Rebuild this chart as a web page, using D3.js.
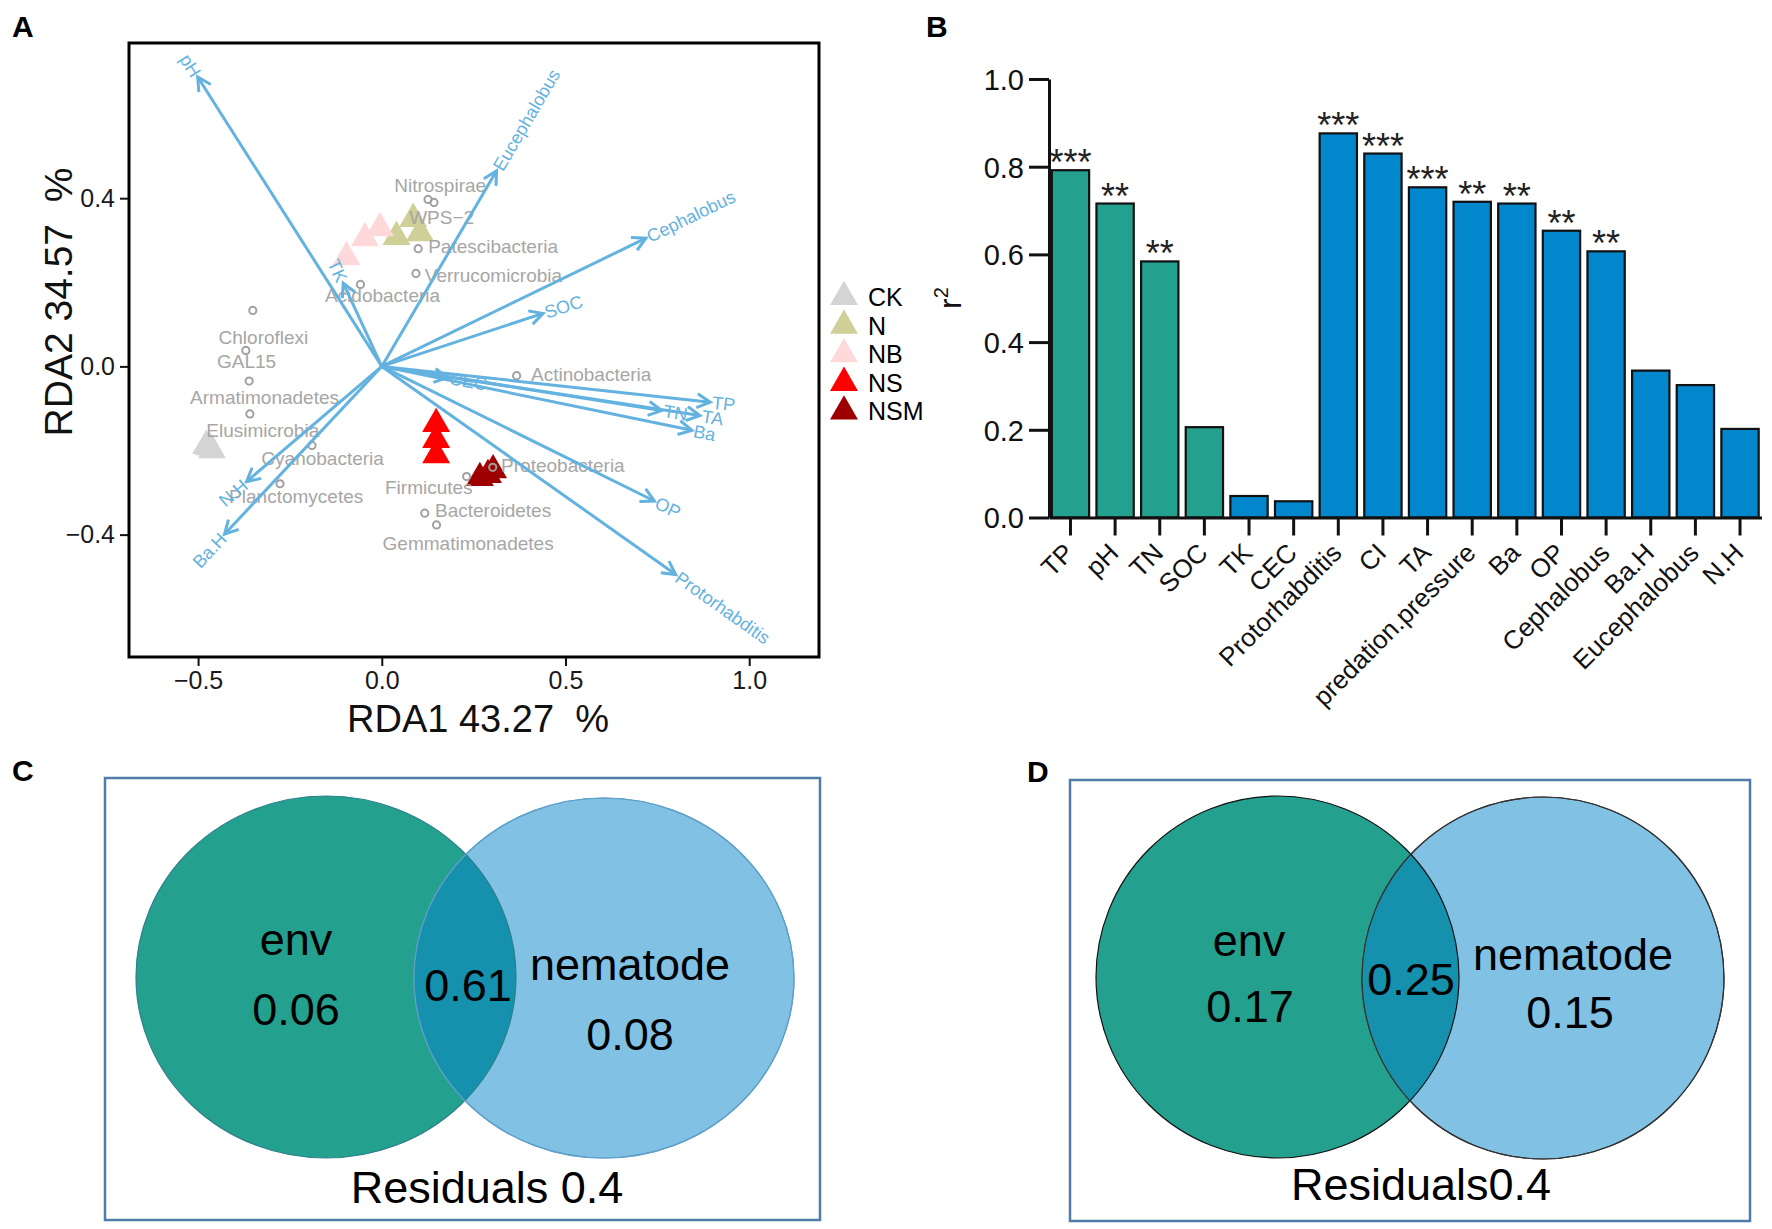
<!DOCTYPE html>
<html>
<head>
<meta charset="utf-8">
<style>
  body { margin: 0; background: #fff; }
  svg text { font-family: "Liberation Sans", Arial, sans-serif; }
  .panel-tag { font-weight: bold; font-size: 30px; }
</style>
</head>
<body>
<svg id="fig" width="1772" height="1229"></svg>
<script src="https://cdnjs.cloudflare.com/ajax/libs/d3/7.8.5/d3.min.js"></script>
<script>
// ---------- A: RDA biplot ----------
var envVars = ["pH", "Eucephalobus", "Cephalobus", "SOC", "TK", "CEC", "TP", "TN", "TA", "Ba", "OP", "Protorhabditis", "N.H", "Ba.H"];
var envRDA1 = [-0.501, 0.3125, 0.719, 0.439, -0.105, 0.179, 0.894, 0.762, 0.866, 0.844, 0.742, 0.800, -0.368, -0.428];
var envRDA2 = [0.688, 0.465, 0.305, 0.126, 0.198, -0.027, -0.085, -0.105, -0.117, -0.152, -0.320, -0.495, -0.274, -0.399];

var phyla = ["Nitrospirae", "WPS\u22122", "Patescibacteria", "Verrucomicrobia", "Acidobacteria", "Chloroflexi", "GAL15",
  "Armatimonadetes", "Elusimicrobia", "Cyanobacteria", "Planctomycetes", "Actinobacteria", "Proteobacteria",
  "Firmicutes", "Bacteroidetes", "Gemmatimonadetes"];
var phylaRDA1 = [0.126, 0.142, 0.099, 0.093, -0.058, -0.351, -0.370, -0.361, -0.359, -0.190, -0.277, 0.367, 0.302, 0.231, 0.117, 0.149];
var phylaRDA2 = [0.397, 0.390, 0.280, 0.221, 0.195, 0.133, 0.038, -0.035, -0.113, -0.188, -0.279, -0.022, -0.240, -0.262, -0.349, -0.377];
// repelled label positions (label centre, baseline) in RDA units
var phylaLabX = [0.159, 0.163, 0.303, 0.304, 0.002, -0.322, -0.368, -0.319, -0.324, -0.161, -0.233, 0.570, 0.493, 0.128, 0.303, 0.235];
var phylaLabY = [0.4156, 0.339, 0.270, 0.2015, 0.154, 0.053, -0.004, -0.089, -0.168, -0.234, -0.324, -0.035, -0.251, -0.303, -0.357, -0.436];

var groups = ["CK", "N", "NB", "NS", "NSM"];
var groupColors = ["#d4d4d4", "#cfcf98", "#ffd9d9", "#ff0000", "#9e0000"];
var siteGroup = ["CK", "CK", "CK", "N", "N", "N", "NB", "NB", "NB", "NS", "NS", "NS", "NSM", "NSM", "NSM"];
var siteRDA1 = [-0.478, -0.462, -0.470, 0.0855, 0.040, 0.104, -0.005, -0.046, -0.096, 0.148, 0.148, 0.148, 0.303, 0.267, 0.289];
var siteRDA2 = [-0.189, -0.199, -0.192, 0.351, 0.308, 0.317, 0.329, 0.305, 0.260, -0.137, -0.175, -0.211, -0.247, -0.265, -0.258];

var aTicksX = [-0.5, 0, 0.5, 1.0];
var aTicksY = [-0.4, 0, 0.4];

// ---------- B: r2 bar chart ----------
var r2Vars = ["TP", "pH", "TN", "SOC", "TK", "CEC", "Protorhabditis", "CI", "TA", "predation.pressure", "Ba", "OP", "Cephalobus", "Ba.H", "Eucephalobus", "N.H"];
var r2Values = [0.792, 0.716, 0.584, 0.206, 0.049, 0.037, 0.876, 0.830, 0.753, 0.720, 0.716, 0.654, 0.607, 0.335, 0.302, 0.202];
var r2Signif = ["***", "**", "**", "", "", "", "***", "***", "***", "**", "**", "**", "**", "", "", ""];
var r2Group = ["g", "g", "g", "g", "b", "b", "b", "b", "b", "b", "b", "b", "b", "b", "b", "b"];
var r2Ticks = [0, 0.2, 0.4, 0.6, 0.8, 1.0];

// ---------- C / D: variation partitioning ----------
var vennSets = ["env", "nematode"];
var vennC = [0.06, 0.61, 0.08];
var vennD = [0.17, 0.25, 0.15];
var residC = "Residuals 0.4";
var residD = "Residuals0.4";

var svg = d3.select("#fig");
svg.append("rect").attr("width", 1772).attr("height", 1229).attr("fill", "#fff");

var arrowCol = "#63b2df", phylaCol = "#a6a6a6";

// ================= panel A =================
var A = { left: 129, right: 819, top: 43, bottom: 657 };
var xA = d3.scaleLinear().domain([-0.688, 1.190]).range([A.left, A.right]);
var yA = d3.scaleLinear().domain([-0.691, 0.769]).range([A.bottom, A.top]);
var gA = svg.append("g");

var axA = gA.append("g").attr("transform", "translate(0," + A.bottom + ")")
  .call(d3.axisBottom(xA).tickValues(aTicksX).tickSize(9).tickSizeOuter(0).tickPadding(5)
    .tickFormat(function (d) { return d3.format(".1f")(d).replace("-", "\u2212"); }));
var ayA = gA.append("g").attr("transform", "translate(" + A.left + ",0)")
  .call(d3.axisLeft(yA).tickValues(aTicksY).tickSize(9).tickSizeOuter(0).tickPadding(5)
    .tickFormat(function (d) { return d3.format(".1f")(d).replace("-", "\u2212"); }));
[axA, ayA].forEach(function (ax) {
  ax.select(".domain").remove();
  ax.selectAll(".tick line").attr("stroke", "#111").attr("stroke-width", 2);
  ax.selectAll(".tick text").attr("font-size", 25).attr("fill", "#1a1a1a")
    .style("font-family", "'Liberation Sans', Arial, sans-serif");
});

// sites
gA.selectAll(".site").data(siteGroup).enter().append("path")
  .attr("d", d3.symbol(d3.symbolTriangle, 340))
  .attr("transform", function (d, i) { return "translate(" + xA(siteRDA1[i]) + "," + yA(siteRDA2[i]) + ")"; })
  .attr("fill", function (d) { return groupColors[groups.indexOf(d)]; });

// phyla
gA.selectAll(".phy").data(phyla).enter().append("circle")
  .attr("cx", function (d, i) { return xA(phylaRDA1[i]); })
  .attr("cy", function (d, i) { return yA(phylaRDA2[i]); })
  .attr("r", 3.6).attr("fill", "none").attr("stroke", "#a0a0a0").attr("stroke-width", 2);
gA.selectAll(".phylab").data(phyla).enter().append("text")
  .attr("x", function (d, i) { return xA(phylaLabX[i]); })
  .attr("y", function (d, i) { return yA(phylaLabY[i]); })
  .attr("text-anchor", "middle").attr("font-size", 19).attr("fill", phylaCol)
  .text(function (d) { return d; });

// env arrows
var ox = xA(0), oy = yA(0);
envVars.forEach(function (v, i) {
  var tx = xA(envRDA1[i]), ty = yA(envRDA2[i]);
  var dx = tx - ox, dy = ty - oy, len = Math.sqrt(dx * dx + dy * dy);
  var ux = dx / len, uy = dy / len, h = 15, a = 28 * Math.PI / 180;
  var bx = -ux, by = -uy;
  var p1 = [tx + h * (bx * Math.cos(a) - by * Math.sin(a)), ty + h * (bx * Math.sin(a) + by * Math.cos(a))];
  var p2 = [tx + h * (bx * Math.cos(-a) - by * Math.sin(-a)), ty + h * (bx * Math.sin(-a) + by * Math.cos(-a))];
  gA.append("line").attr("x1", ox).attr("y1", oy).attr("x2", tx).attr("y2", ty)
    .attr("stroke", arrowCol).attr("stroke-width", 3);
  gA.append("path").attr("d", "M" + p1 + "L" + tx + "," + ty + "L" + p2)
    .attr("fill", "none").attr("stroke", arrowCol).attr("stroke-width", 3).attr("stroke-linejoin", "miter");
  var ang = Math.atan2(dy, dx) * 180 / Math.PI;
  var flip = Math.abs(ang) > 90;
  gA.append("text")
    .attr("transform", "translate(" + (tx + ux * 2) + "," + (ty + uy * 2) + ") rotate(" + (flip ? ang + 180 : ang) + ")")
    .attr("text-anchor", flip ? "end" : "start").attr("dy", "0.35em")
    .attr("font-size", 18).attr("fill", arrowCol).text(v);
});

gA.append("rect").attr("x", A.left).attr("y", A.top).attr("width", A.right - A.left).attr("height", A.bottom - A.top)
  .attr("fill", "none").attr("stroke", "#000").attr("stroke-width", 3);

gA.append("text").attr("x", (A.left + A.right) / 2 + 4).attr("y", 732).attr("text-anchor", "middle")
  .attr("font-size", 38).attr("fill", "#111").text("RDA1 43.27 \u00a0%");
gA.append("text").attr("transform", "translate(72,302) rotate(-90)").attr("text-anchor", "middle")
  .attr("font-size", 39).attr("fill", "#111").text("RDA2 34.57 \u00a0%");

// legend
var leg = gA.append("g").attr("transform", "translate(844,297)");
groups.forEach(function (gname, i) {
  leg.append("path").attr("d", d3.symbol(d3.symbolTriangle, 340))
    .attr("transform", "translate(0," + (i * 28.6) + ")").attr("fill", groupColors[i]);
  leg.append("text").attr("x", 24).attr("y", i * 28.6 + 9).attr("font-size", 25).attr("fill", "#000").text(gname);
});

// ================= panel B =================
var B = { left: 1049, right: 1761.5, top: 79, bottom: 517.5 };
var xB = d3.scaleBand().domain(r2Vars).range([B.left, B.right]).paddingInner(0.164).paddingOuter(0.063);
var yB = d3.scaleLinear().domain([0, 1]).range([B.bottom, B.top]);
var gB = svg.append("g");

gB.selectAll(".bar").data(r2Vars).enter().append("rect")
  .attr("x", function (d) { return xB(d); })
  .attr("y", function (d, i) { return yB(r2Values[i]); })
  .attr("width", xB.bandwidth())
  .attr("height", function (d, i) { return B.bottom - yB(r2Values[i]); })
  .attr("fill", function (d, i) { return r2Group[i] === "g" ? "#24a08f" : "#0287cc"; })
  .attr("stroke", "#111").attr("stroke-width", 2.2);

gB.selectAll(".sig").data(r2Vars).enter().append("text")
  .attr("x", function (d) { return xB(d) + xB.bandwidth() / 2; })
  .attr("y", function (d, i) { return yB(r2Values[i]) + 5; })
  .attr("text-anchor", "middle").attr("font-size", 36).attr("fill", "#222")
  .text(function (d, i) { return r2Signif[i]; });

var axB = gB.append("g").attr("transform", "translate(" + B.left + ",0)")
  .call(d3.axisLeft(yB).tickValues(r2Ticks).tickFormat(d3.format(".1f")).tickSize(20).tickSizeOuter(0).tickPadding(5));
var bxB = gB.append("g").attr("transform", "translate(0," + B.bottom + ")")
  .call(d3.axisBottom(xB).tickSize(18).tickSizeOuter(0));
[axB, bxB].forEach(function (ax) {
  ax.select(".domain").attr("stroke", "#111").attr("stroke-width", 3);
  ax.selectAll(".tick line").attr("stroke", "#111").attr("stroke-width", 3);
  ax.selectAll(".tick text").attr("fill", "#111").style("font-family", "'Liberation Sans', Arial, sans-serif");
});
axB.selectAll(".tick text").attr("font-size", 29).attr("dy", "0.36em");
bxB.selectAll(".tick text").attr("font-size", 26).attr("y", 0).attr("dy", null)
  .attr("text-anchor", "end").attr("transform", "translate(5,37) rotate(-45)");

gB.append("text").attr("transform", "translate(961,298) rotate(-90)").attr("text-anchor", "middle")
  .attr("font-size", 32).attr("fill", "#111")
  .html('r<tspan font-size="20" dy="-13">2</tspan>');

// ================= panels C, D =================
function venn(box, L, R, vals, resid, pos, edge) {
  var g = svg.append("g");
  var id = "clip" + Math.round(box.x);
  g.append("clipPath").attr("id", id).append("ellipse")
    .attr("cx", R.cx).attr("cy", R.cy).attr("rx", R.rx).attr("ry", R.ry);
  g.append("rect").attr("x", box.x).attr("y", box.y).attr("width", box.w).attr("height", box.h)
    .attr("fill", "none").attr("stroke", "#4f7ca8").attr("stroke-width", 2.5);
  g.append("ellipse").attr("cx", L.cx).attr("cy", L.cy).attr("rx", L.rx).attr("ry", L.ry)
    .attr("fill", "#24a08f").attr("stroke", edge[0]).attr("stroke-width", 1.2);
  g.append("ellipse").attr("cx", R.cx).attr("cy", R.cy).attr("rx", R.rx).attr("ry", R.ry)
    .attr("fill", "#80c1e4").attr("stroke", edge[1]).attr("stroke-width", 1.2);
  g.append("ellipse").attr("cx", L.cx).attr("cy", L.cy).attr("rx", L.rx).attr("ry", L.ry)
    .attr("clip-path", "url(#" + id + ")").attr("fill", "#1590ad").attr("stroke", edge[0]).attr("stroke-width", 1.2);
  g.append("ellipse").attr("cx", R.cx).attr("cy", R.cy).attr("rx", R.rx).attr("ry", R.ry)
    .attr("fill", "none").attr("stroke", edge[1]).attr("stroke-width", 1.2);
  var labels = [vennSets[0], vals[0], vals[1], vennSets[1], vals[2], resid];
  labels.forEach(function (t, i) {
    g.append("text").attr("x", pos[i][0]).attr("y", pos[i][1]).attr("text-anchor", "middle")
      .attr("font-size", 45).attr("fill", "#000")
      .text(typeof t === "number" ? d3.format(".2f")(t) : t);
  });
}

venn({ x: 105, y: 778, w: 715, h: 442 },
  { cx: 326, cy: 977, rx: 190, ry: 181 }, { cx: 604, cy: 978, rx: 190, ry: 180 },
  vennC, residC,
  [[296, 955], [296, 1025], [468, 1001], [630, 980], [630, 1050], [487, 1203]],
  ["#2c7f8c", "#5f9fc9"]);

venn({ x: 1070, y: 780, w: 680, h: 441 },
  { cx: 1277.5, cy: 977, rx: 181.5, ry: 181 }, { cx: 1543, cy: 978, rx: 181, ry: 181 },
  vennD, residD,
  [[1249, 956], [1250, 1022], [1411, 995], [1573, 970], [1570, 1028], [1421, 1200]],
  ["#111", "#333"]);

// panel tags
[["A", 12, 37], ["B", 926, 37], ["C", 12, 781], ["D", 1027, 782]].forEach(function (t) {
  svg.append("text").attr("class", "panel-tag").attr("x", t[1]).attr("y", t[2]).text(t[0]);
});
</script>
</body>
</html>
